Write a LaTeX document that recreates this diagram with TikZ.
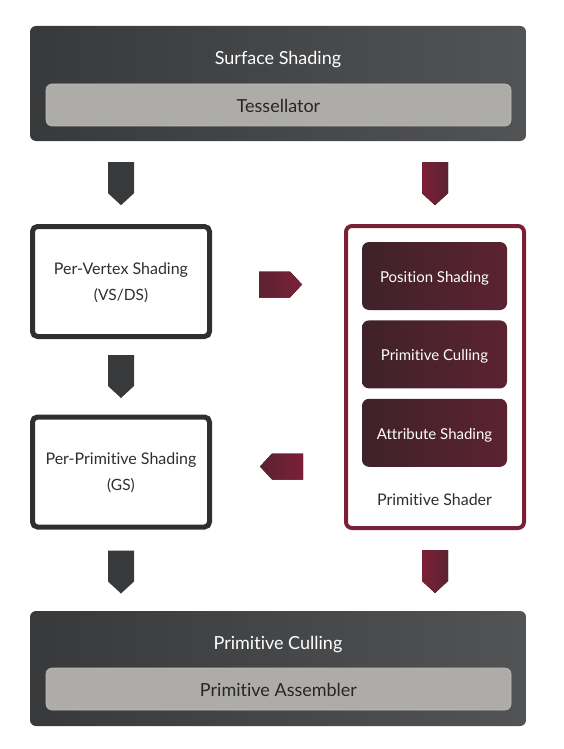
\documentclass[tikz,border=0pt]{standalone}
\usepackage{fontspec}
\setmainfont{Lato}[Ligatures=NoCommon]
\usetikzlibrary{positioning,calc}
\definecolor{carbon}{HTML}{38393B}
\definecolor{carbonl}{HTML}{525355}
\definecolor{piedra}{HTML}{AEACA9}
\definecolor{grana}{HTML}{7C2037}
\definecolor{granaf}{HTML}{3F2229}
\definecolor{granam}{HTML}{5B2232}
\definecolor{tinta}{HTML}{2E2F31}

\tikzset{
  barra/.style={rounded corners=6pt,left color=carbon,right color=carbonl,
        minimum width=496pt,minimum height=115pt,inner sep=0pt},
  placa/.style={rounded corners=6pt,fill=piedra,draw=piedra!80!white,line width=0.6pt,
        minimum width=465pt,minimum height=42pt,inner sep=0pt,text height=15pt,text depth=0pt,
        font=\fontsize{18}{20}\selectfont,text=black!85},
  caja/.style={draw=tinta,line width=5pt,rounded corners=5pt,fill=white,
        minimum width=177pt,minimum height=110pt,align=center,text=tinta,text depth=-5pt,
        font=\fontsize{16}{26}\selectfont},
  marco/.style={draw=grana,line width=4pt,rounded corners=6pt,fill=white,
        minimum width=178pt,minimum height=302pt,inner sep=0pt},
  etapa/.style={rounded corners=7pt,left color=granaf,right color=granam,
        minimum width=145pt,minimum height=68pt,inner sep=0pt,text=white,
        text height=13pt,text depth=0pt,font=\fontsize{15}{17}\selectfont},
  pics/flecha/.style={code={
    \fill[#1] (0,-13) -- (31,-13) -- (43,0) -- (31,13) -- (0,13) -- cycle;}},
}

\begin{document}
\begin{tikzpicture}[x=1pt,y=1pt]
  \useasboundingbox (0,0) rectangle (564,-749);

  % bloque superior
  \node[barra] (sup) at (278,-83.5) {};
  \node[text=white,font=\fontsize{18}{20}\selectfont] (supt) at (278,-60) {Surface Shading};
  \node[placa] (tess) at (278.5,-105) {Tessellator};

  % ruta clasica
  \node[caja] (pvs) at (121,-281.5) {Per-Vertex Shading\\{\fontsize{15.5}{18}\selectfont (VS/DS)}};
  \node[caja] (pps) at (121,-472) {Per-Primitive Shading\\{\fontsize{15.5}{18}\selectfont (GS)}};

  % primitive shader
  \node[marco] (prim) at (435,-377) {};
  \node[etapa] (pos) at (434.5,-276) {Position Shading};
  \node[etapa,below=10pt of pos] (cul) {Primitive Culling};
  \node[etapa,below=10pt of cul] (att) {Attribute Shading};
  \node[text=tinta,font=\fontsize{16}{18}\selectfont] (primt) at (434.5,-500) {Primitive Shader};

  % bloque inferior
  \node[barra] (inf) at (278,-668.5) {};
  \node[text=white,font=\fontsize{18}{20}\selectfont] (inft) at (278,-645) {Primitive Culling};
  \node[placa] (asm) at (278.5,-689) {Primitive Assembler};

  % flechas
  \pic[rotate=-90] at ($(sup.south -| pvs)+(0,-21)$) {flecha={fill=carbon}};
  \pic[rotate=-90] at ($(pvs.south)+(0,-16)$) {flecha={fill=carbon}};
  \pic[rotate=-90] at ($(pps.south)+(0,-21)$) {flecha={fill=carbon}};
  \pic[rotate=-90] at ($(sup.south -| prim)+(0,-21)$) {flecha={left color=grana,right color=granam}};
  \pic[rotate=-90] at ($(prim.south)+(0,-20)$) {flecha={left color=grana,right color=granam}};
  \pic at ($(pvs.east)+(47,-3)$) {flecha={left color=granam,right color=grana}};
  \pic[rotate=180] at ($(prim.west |- pps)+(-41,5.5)$) {flecha={left color=granam,right color=grana}};
\end{tikzpicture}
\end{document}
